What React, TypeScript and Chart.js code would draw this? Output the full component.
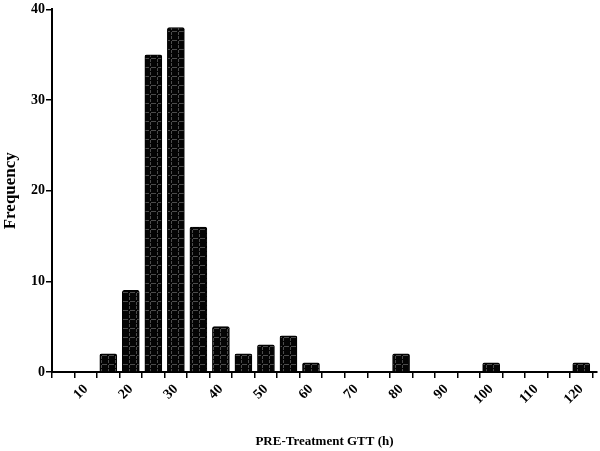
import { useEffect, useRef } from 'react';
import { Chart, registerables } from 'chart.js';

Chart.register(...registerables);

// Histogram bins (centre of each 5-h bin) and their frequencies
const binCenters = [15, 20, 25, 30, 35, 40, 45, 50, 55, 60, 80, 100, 120];
const frequencies = [2, 9, 35, 38, 16, 5, 2, 3, 4, 1, 2, 1, 1];

// Axis ticks
const xTickValues = [5, 10, 15, 20, 25, 30, 35, 40, 45, 50, 55, 60, 65, 70, 75, 80, 85, 90, 95, 100, 105, 110, 115, 120];
const xLabelledTicks = [10, 20, 30, 40, 50, 60, 70, 80, 90, 100, 110, 120];
const yTickValues = [0, 10, 20, 30, 40];

const xTitle = 'PRE-Treatment GTT (h)';
const yTitle = 'Frequency';

const FONT = '"Liberation Serif", "Times New Roman", serif';

function makePattern(): CanvasPattern | string {
  const c = document.createElement('canvas');
  c.width = 7;
  c.height = 9;
  const g = c.getContext('2d');
  if (!g) return '#000';
  g.fillStyle = '#040404';
  g.fillRect(0, 0, 7, 9);
  g.fillStyle = '#4c4c4c';
  // horizontal dashed line
  g.fillRect(0, 4, 2, 1);
  g.fillRect(4, 4, 3, 1);
  // vertical dashed line
  g.fillRect(3, 0, 1, 3);
  g.fillRect(3, 5, 1, 3);
  const p = g.createPattern(c, 'repeat');
  return p || '#000';
}

export default function App() {
  const ref = useRef<HTMLCanvasElement | null>(null);

  useEffect(() => {
    const canvas = ref.current;
    if (!canvas) return;
    const pattern = makePattern();
    const chart = new Chart(canvas, {
      type: 'bar',
      data: {
        datasets: [
          {
            data: binCenters.map((x, i) => ({ x, y: frequencies[i] })),
            backgroundColor: pattern as any,
            borderColor: '#000',
            borderWidth: 1,
            borderRadius: 2,
            borderSkipped: 'bottom',
            barThickness: 17,
          },
        ],
      },
      options: {
        responsive: false,
        animation: false,
        layout: { padding: { top: 9, right: 3, bottom: 0, left: 0 } },
        plugins: {
          legend: { display: false },
          tooltip: { enabled: false },
        },
        scales: {
          x: {
            type: 'linear',
            min: 2.5,
            max: 123.5,
            offset: false,
            afterBuildTicks: (scale: any) => {
              scale.ticks = xTickValues.map((v) => ({ value: v }));
            },
            afterFit: (scale: any) => {
              scale.height = 79;
            },
            ticks: {
              autoSkip: false,
              minRotation: 45,
              maxRotation: 45,
              padding: 3,
              color: '#000',
              font: { family: FONT, size: 14, weight: 'bold' },
              callback: (v: any) => (xLabelledTicks.includes(Number(v)) ? String(v) : ''),
            },
            grid: {
              display: true,
              drawOnChartArea: false,
              drawTicks: true,
              tickLength: 6,
              color: '#000',
              lineWidth: 1.5,
            },
            border: { display: true, color: '#000', width: 2 },
            title: {
              display: true,
              text: xTitle,
              color: '#000',
              font: { family: FONT, size: 13, weight: 'bold' },
              padding: { top: 0, bottom: 2 },
            },
          },
          y: {
            type: 'linear',
            min: 0,
            max: 40,
            afterBuildTicks: (scale: any) => {
              scale.ticks = yTickValues.map((v) => ({ value: v }));
            },
            afterFit: (scale: any) => {
              scale.width = 52;
            },
            ticks: {
              padding: 1,
              color: '#000',
              font: { family: FONT, size: 14, weight: 'bold' },
            },
            grid: {
              display: true,
              drawOnChartArea: false,
              drawTicks: true,
              tickLength: 6,
              color: '#000',
              lineWidth: 1.5,
            },
            border: { display: true, color: '#000', width: 2 },
            title: {
              display: true,
              text: yTitle,
              color: '#000',
              font: { family: FONT, size: 17, weight: 'bold' },
              padding: { top: 0, bottom: 0 },
            },
          },
        },
      },
    });
    return () => chart.destroy();
  }, []);

  return (
    <div style={{ position: 'absolute', left: 0, top: 0, width: 600, height: 451, background: '#fff' }}>
      <canvas ref={ref} width={600} height={451} style={{ display: 'block', width: 600, height: 451 }} />
    </div>
  );
}
